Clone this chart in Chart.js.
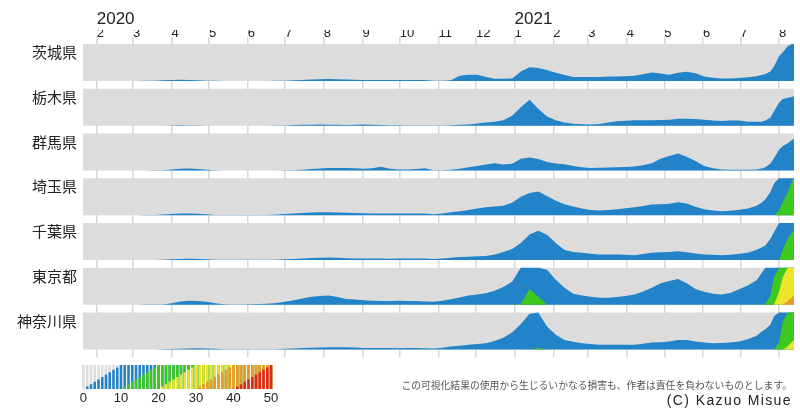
<!DOCTYPE html>
<html lang="ja">
<head>
<meta charset="utf-8">
<title>新規陽性者数 ホライズンチャート</title>
<script src="https://cdn.jsdelivr.net/npm/chart.js@4.4.1/dist/chart.umd.min.js"></script>
<style>
html,body{margin:0;padding:0;background:#fff;}
body{width:800px;height:419px;position:relative;overflow:hidden;font-family:'Liberation Sans','Noto Sans CJK JP',sans-serif;}
canvas{position:absolute;left:0;}
#main{top:0;}
#legend{top:355px;}
.note{position:absolute;right:8px;text-align:right;white-space:nowrap;}
#disclaimer{top:378px;font-size:9.8px;color:#555;}
#credit{top:392px;font-size:14px;color:#222;letter-spacing:1.4px;}
</style>
</head>
<body>
<canvas id="main" width="800" height="419"></canvas>
<canvas id="legend" width="300" height="64"></canvas>
<div class="note" id="disclaimer">この可視化結果の使用から生じるいかなる損害も、作者は責任を負わないものとします。</div>
<div class="note" id="credit">(C) Kazuo Misue</div>
<script>
// === データ（日 = 2020-01-01 からの日数） ===
const PREFS = ["茨城県","栃木県","群馬県","埼玉県","千葉県","東京都","神奈川県"];

const MONTH_DAYS   = [31,60,91,121,152,182,213,244,274,305,335,366,397,425,456,486,517,547,578];
const MONTH_LABELS = ["2","3","4","5","6","7","8","9","10","11","12","1","2","3","4","5","6","7","8"];
const YEAR_DAYS    = [31,366];
const YEAR_LABELS  = ["2020","2021"];

const DAYS = [
  21,28,35,42,49,56,63,70,77,84,
  91,98,105,112,119,126,133,140,147,154,
  161,168,175,182,189,196,203,210,217,224,
  231,238,245,252,259,266,273,280,287,294,
  301,308,315,322,329,336,343,350,357,364,
  371,378,385,392,399,406,413,420,427,434,
  441,448,455,462,469,476,483,490,497,504,
  511,518,525,532,539,546,553,
  560,564,567,571,574,578,581,585,588,590
];

const IBARAKI = [
  0,0,0,0,0,0.02,0.02,0.05,0.1,0.2,
  0.3,0.35,0.3,0.2,0.1,0.05,0.02,0.02,0.02,0.02,
  0.02,0.03,0.05,0.1,0.2,0.3,0.4,0.5,0.55,0.5,
  0.4,0.35,0.3,0.25,0.3,0.25,0.3,0.25,0.3,0.3,
  0.1,0.1,0.2,1.4,1.7,1.7,1.1,0.6,0.6,0.7,
  2.6,3.7,3.5,3.0,2.2,1.6,1.1,1.1,1.1,1.1,
  1.2,1.2,1.3,1.4,1.8,2.3,2.0,1.7,2.2,2.5,
  2.1,1.2,0.9,0.7,0.7,0.8,1.0,
  1.3,1.6,1.9,2.6,4.0,6.7,7.8,9.4,9.9,10.2
];
const TOCHIGI = [
  0,0,0,0,0,0,0,0,0,0.02,
  0.1,0.15,0.1,0.05,0.02,0.02,0.02,0.02,0.02,0.02,
  0.02,0.02,0.05,0.1,0.2,0.3,0.3,0.35,0.3,0.25,
  0.2,0.25,0.35,0.3,0.2,0.15,0.15,0.1,0.1,0.1,
  0.1,0.1,0.15,0.25,0.35,0.6,0.9,1.1,1.5,2.7,
  5.0,7.0,4.6,2.5,1.5,0.9,0.55,0.4,0.35,0.5,
  0.9,1.25,1.35,1.5,1.5,1.5,1.55,1.6,1.9,1.9,
  1.8,1.6,1.4,1.3,1.4,1.4,1.1,
  1.1,1.1,1.4,2.2,3.9,6.2,7.2,7.6,7.8,8.0
];
const GUNMA = [
  0,0,0,0,0,0,0,0.02,0.05,0.1,
  0.3,0.5,0.55,0.4,0.2,0.05,0.02,0.02,0.02,0.02,
  0.02,0.02,0.02,0.05,0.1,0.2,0.4,0.55,0.65,0.7,
  0.7,0.6,0.5,0.6,1.0,0.5,0.3,0.3,0.4,0.6,
  0.1,0.1,0.2,0.5,0.9,1.2,1.6,2.0,1.6,1.8,
  3.2,3.5,3.1,2.3,1.9,1.7,1.2,0.9,0.65,0.75,
  0.85,0.9,0.95,1.1,1.4,2.0,3.2,3.9,4.6,3.7,
  2.6,1.2,0.6,0.3,0.2,0.2,0.2,
  0.3,0.55,0.9,1.8,3.4,5.6,6.6,7.4,8.2,8.6
];
const SAITAMA = [
  0,0,0,0,0,0,0,0.05,0.1,0.2,
  0.35,0.45,0.45,0.4,0.25,0.1,0.05,0.05,0.05,0.05,
  0.05,0.1,0.2,0.35,0.5,0.65,0.75,0.8,0.8,0.75,
  0.7,0.6,0.55,0.45,0.45,0.5,0.5,0.45,0.5,0.5,
  0.3,0.5,0.8,1.1,1.4,1.8,2.2,2.4,2.6,3.4,
  5.0,6.0,6.4,5.2,3.9,3.0,2.4,1.8,1.4,1.3,
  1.4,1.6,1.9,2.2,2.5,2.9,3.0,3.1,3.5,3.2,
  2.3,1.6,1.3,1.1,1.2,1.5,1.8,
  2.6,3.4,4.3,6.2,8.6,11.3,13.5,16.2,19.0,20.3
];
const CHIBA = [
  0,0,0,0,0,0,0,0.02,0.02,0.05,
  0.2,0.3,0.35,0.3,0.2,0.1,0.05,0.05,0.05,0.05,
  0.05,0.05,0.1,0.2,0.3,0.45,0.55,0.65,0.7,0.6,
  0.5,0.45,0.4,0.4,0.4,0.35,0.4,0.4,0.45,0.45,
  0.3,0.45,0.65,0.8,0.9,1.0,1.1,1.5,2.2,3.0,
  4.6,6.9,7.9,6.8,4.6,2.7,2.2,2.0,1.7,1.5,
  1.5,1.5,1.4,1.3,1.6,2.0,2.1,2.2,2.4,2.1,
  1.8,1.5,1.4,1.3,1.4,1.7,2.0,
  2.8,3.4,3.9,5.7,7.6,10.0,12.8,15.8,17.3,17.9
];
const TOKYO = [
  0,0,0,0,0,0.02,0.02,0.05,0.05,0.1,
  0.4,0.9,1.1,1.0,0.8,0.4,0.15,0.1,0.1,0.15,
  0.2,0.3,0.5,0.8,1.2,1.7,2.2,2.4,2.5,2.1,
  1.6,1.4,1.2,1.1,1.0,1.0,1.1,1.0,1.0,0.9,
  0.8,1.1,1.5,2.0,2.5,2.8,3.1,3.8,4.8,6.2,
  10.2,14.3,12.2,9.5,6.8,4.6,3.0,2.5,2.2,1.9,
  1.9,2.1,2.4,2.8,3.6,4.6,5.8,6.4,7.0,5.8,
  4.3,3.5,3.0,2.8,3.2,4.2,5.2,
  6.6,8.5,10.2,12.4,17.5,23.5,27.5,31.0,32.0,32.5
];
const KANAGAWA = [
  0,0,0,0,0.02,0.02,0.02,0.02,0.02,0.05,
  0.15,0.25,0.3,0.35,0.3,0.2,0.1,0.05,0.05,0.05,
  0.05,0.05,0.1,0.2,0.3,0.4,0.5,0.55,0.6,0.65,
  0.65,0.55,0.45,0.4,0.4,0.4,0.35,0.4,0.4,0.35,
  0.3,0.5,0.8,1.0,1.3,1.5,1.7,2.3,3.2,4.6,
  6.9,9.7,10.4,6.2,4.0,2.6,2.1,1.7,1.5,1.3,
  1.3,1.3,1.3,1.3,1.6,1.9,2.0,2.2,2.6,2.6,
  2.2,1.9,1.7,1.8,1.9,2.2,2.8,
  3.7,4.8,5.5,6.7,9.0,12.0,17.5,20.8,22.0,22.6
];
const ROWS = [IBARAKI, TOCHIGI, GUNMA, SAITAMA, CHIBA, TOKYO, KANAGAWA];

const LEGEND_VALUES = [
  0,1,2,3,4,5,6,7,8,9,10,11,12,13,14,15,16,17,18,19,20,
  21,22,23,24,25,26,27,28,29,30,31,32,33,34,35,36,37,38,39,40,
  41,42,43,44,45,46,47,48,49,50
];
// =================================

const BAND = 10;          // 1段の幅
const H = 0.827;          // 行の高さ（行ピッチ単位）
const LABEL_OFF = 0.224;  // 県名の位置
const GRAY = "#dcdcdc";
const COLORS = ["#2283c8","#3cc81c","#ebe62c","#ea972c","#e3251f"];

Chart.defaults.font.family = "'Liberation Sans','Noto Sans CJK JP',sans-serif";
Chart.defaults.color = "#222";

function sel(id){ return document.getElementById(id); }
const clamp = (v) => Math.max(0, Math.min(BAND, v));

// --------- メインのホライズンチャート ----------
const datasets = [];
ROWS.forEach((vals, r)=>{
  const top = Math.max(...vals);
  COLORS.forEach((c, k)=>{
    if (top <= BAND*k) return;
    datasets.push({
      data: DAYS.map((d,j)=>({ x: d, y: r + H - H*clamp(vals[j]-BAND*k)/BAND })),
      fill: { value: r + H },
      backgroundColor: c,
      borderWidth: 0, pointRadius: 0, tension: 0,
      order: 10 - k
    });
  });
});

const rowBg = {
  id: "rowBg",
  beforeDatasetsDraw(chart){
    const { ctx, chartArea: a, scales: { y } } = chart;
    ctx.save();
    ctx.fillStyle = GRAY;
    PREFS.forEach((_, r)=>{
      const t = y.getPixelForValue(r), b = y.getPixelForValue(r + H);
      ctx.fillRect(a.left, t, a.right - a.left, b - t);
    });
    ctx.restore();
  }
};

new Chart(sel("main"), {
  type: "line",
  data: { datasets },
  plugins: [rowBg],
  options: {
    responsive: false, animation: false, events: [],
    layout: { padding: { left: 0, right: 6, top: 0, bottom: 61.7 } },
    plugins: { legend: { display: false }, tooltip: { enabled: false } },
    scales: {
      x: {
        type: "linear", position: "top", min: 20, max: 590,
        afterBuildTicks: s => { s.ticks = MONTH_DAYS.map(v=>({ value: v })); },
        afterFit: s => { s.height = 14; },
        ticks: { autoSkip: false, maxRotation: 0, align: "start", padding: -4,
                 font: { size: 13 }, callback: (v,i) => MONTH_LABELS[i] },
        grid: { color: "#d8d8d8", lineWidth: 1.5, tickLength: 7 },
        border: { display: false }
      },
      x2: {
        type: "linear", position: "top", min: 20, max: 590,
        afterBuildTicks: s => { s.ticks = YEAR_DAYS.map(v=>({ value: v })); },
        afterFit: s => { s.height = 30; },
        ticks: { autoSkip: false, maxRotation: 0, align: "start", padding: 0,
                 font: { size: 17 }, callback: (v,i) => YEAR_LABELS[i] },
        grid: { display: false, drawTicks: false },
        border: { display: false }
      },
      y: {
        type: "linear", reverse: true, min: 0, max: 7,
        afterBuildTicks: s => { s.ticks = PREFS.map((_, i)=>({ value: i + LABEL_OFF })); },
        afterFit: s => { s.width = 83; },
        ticks: { padding: 6, font: { size: 15 }, callback: (v,i) => PREFS[i] },
        grid: { display: false, drawTicks: false },
        border: { display: false }
      }
    }
  }
});

// --------- 凡例 ----------
const legendSets = [{
  data: LEGEND_VALUES.map(()=>BAND), backgroundColor: GRAY, order: 100
}].concat(COLORS.map((c,k)=>({
  data: LEGEND_VALUES.map(v=>clamp(v - BAND*k)), backgroundColor: c, order: 10 - k
})));

new Chart(sel("legend"), {
  type: "bar",
  data: { labels: LEGEND_VALUES.map(String), datasets: legendSets },
  options: {
    responsive: false, animation: false, events: [],
    layout: { padding: { left: 81.6, right: 27.1, top: 10, bottom: 10 } },
    plugins: { legend: { display: false }, tooltip: { enabled: false } },
    datasets: { bar: { grouped: false, barPercentage: 0.68, categoryPercentage: 1 } },
    scales: {
      x: {
        afterFit: s => { s.height = 20; },
        ticks: { autoSkip: false, maxRotation: 0, padding: 2, font: { size: 13 },
                 callback: (v,i) => LEGEND_VALUES[i] % 10 === 0 ? String(LEGEND_VALUES[i]) : null },
        grid: { display: false, drawTicks: false },
        border: { display: false }
      },
      y: { display: false, min: 0, max: BAND }
    }
  }
});
</script>
</body>
</html>
